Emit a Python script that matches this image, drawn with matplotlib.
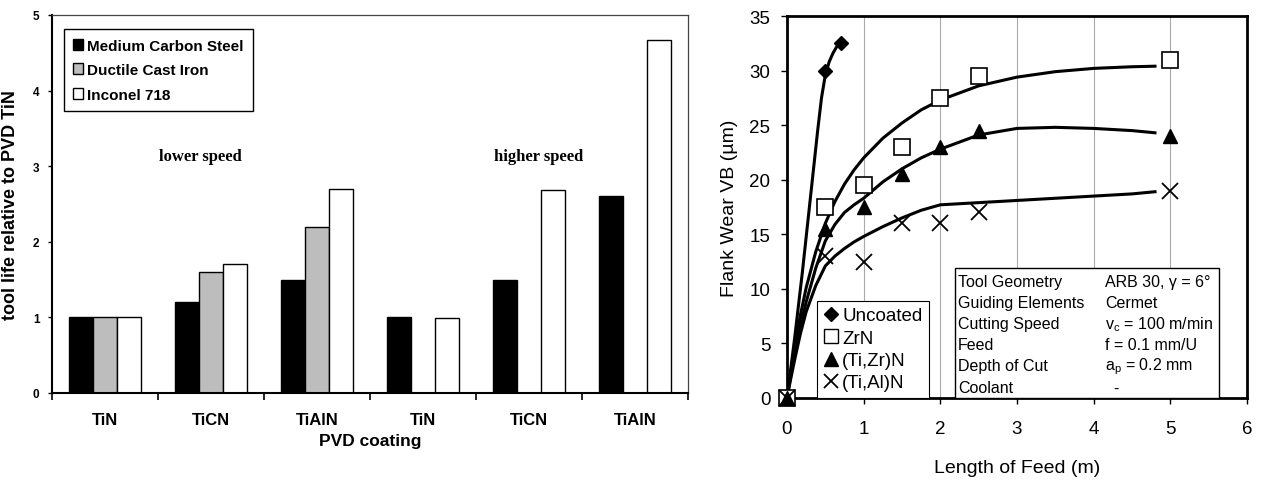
import numpy as np
import matplotlib
matplotlib.use("Agg")
import matplotlib.pyplot as plt
from matplotlib.patches import Patch, Rectangle
from matplotlib.lines import Line2D

plt.rcParams['font.family'] = ['Liberation Sans', 'DejaVu Sans']

# left panel: tool life relative to PVD TiN
coatings = ["TiN", "TiCN", "TiAlN", "TiN", "TiCN", "TiAlN"]
medium_carbon = [1.0, 1.2, 1.5, 1.0, 1.5, 2.6]
ductile_iron = [1.0, 1.6, 2.2, np.nan, np.nan, np.nan]
inconel = [1.0, 1.7, 2.7, 0.99, 2.68, 4.67]
materials = ["Medium Carbon Steel", "Ductile Cast Iron", "Inconel 718"]

# right panel: flank wear vs length of feed
uncoated_x = [0, 0.5, 0.7]
uncoated_y = [0, 30, 32.5]
zrn_x = [0, 0.5, 1, 1.5, 2, 2.5, 5]
zrn_y = [0, 17.5, 19.5, 23, 27.5, 29.5, 31]
tizr_x = [0, 0.5, 1, 1.5, 2, 2.5, 5]
tizr_y = [0, 15.5, 17.5, 20.5, 23, 24.5, 24]
tial_x = [0, 0.5, 1, 1.5, 2, 2.5, 5]
tial_y = [0, 13, 12.5, 16, 16, 17, 19]

# trend curves
uncoated_curve_x = [0, 0.1, 0.2, 0.3, 0.4, 0.45, 0.5, 0.55, 0.6, 0.65, 0.7]
uncoated_curve_y = [0, 5.5, 11.5, 18, 24.5, 27.5, 29.6, 30.8, 31.6, 32.2, 32.6]
curve_x = [0, 0.05, 0.1, 0.175, 0.25, 0.375, 0.5, 0.625, 0.75, 0.875, 1, 1.25, 1.5,
           1.75, 2, 2.5, 3, 3.5, 4, 4.5, 4.8]
zrn_curve_y = [0, 2.4, 4.6, 7.6, 10.1, 13.4, 16, 18, 19.6, 20.9, 22, 23.8, 25.2,
               26.4, 27.3, 28.6, 29.4, 29.9, 30.2, 30.35, 30.4]
tizr_curve_y = [0, 2.1, 4.1, 6.6, 8.8, 11.9, 14.4, 15.9, 17, 17.7, 18.3, 19.8, 21,
                22, 22.8, 24.1, 24.7, 24.8, 24.7, 24.5, 24.3]
tial_curve_y = [0, 1.8, 3.5, 5.9, 7.9, 10.3, 12.1, 13, 13.7, 14.3, 14.8, 15.7, 16.5,
                17.2, 17.7, 17.9, 18.1, 18.3, 18.5, 18.7, 18.9]

conditions = ["Tool Geometry", "Guiding Elements", "Cutting Speed", "Feed",
              "Depth of Cut", "Coolant"]
condition_values = ["ARB 30, \u03b3 = 6\u00b0", "Cermet",
                    r"v$_\mathregular{c}$ = 100 m/min", "f = 0.1 mm/U",
                    r"a$_\mathregular{p}$ = 0.2 mm", "  -"]

fig = plt.figure(figsize=(12.61, 4.81), dpi=100)

# ---------- left bar chart ----------
ax1 = fig.add_axes([52 / 1261, 87 / 481, 636 / 1261, 378 / 481])
x = np.arange(len(coatings))
w = 0.225
ax1.bar(x - w, medium_carbon, w, color="black", edgecolor="black", lw=1)
ax1.bar(x, ductile_iron, w, color="#bdbdbd", edgecolor="black", lw=1)
ax1.bar(x + w, inconel, w, color="white", edgecolor="black", lw=1)

ax1.set_xlim(-0.5, 5.5)
ax1.set_ylim(0, 5)
ax1.set_xticks(x)
ax1.set_xticklabels(coatings, fontsize=12, fontweight="bold")
ax1.set_xticks(np.arange(-0.5, 6, 1), minor=True)
ax1.tick_params(axis="x", which="major", length=0, pad=14)
ax1.tick_params(axis="x", which="minor", length=5, width=1.2, direction="out")
ax1.set_yticks(range(6))
ax1.set_yticklabels([str(i) for i in range(6)], fontsize=8.5, fontweight="bold")
ax1.tick_params(axis="y", length=3, width=1, pad=6)
for s in ["left", "bottom"]:
    ax1.spines[s].set_linewidth(1.5)
for s in ["top", "right"]:
    ax1.spines[s].set_linewidth(0.9)
    ax1.spines[s].set_color("#444444")
ax1.set_xlabel("PVD coating", fontsize=12.5, fontweight="bold", labelpad=4)
ax1.set_ylabel("tool life relative to PVD TiN", fontsize=13, fontweight="bold",
               labelpad=10)

ax1.text(0.9, 3.14, "lower speed", family="Liberation Serif", fontweight="bold",
         fontsize=12, ha="center", va="center")
ax1.text(4.09, 3.14, "higher speed", family="Liberation Serif", fontweight="bold",
         fontsize=12, ha="center", va="center")

handles = [Patch(facecolor="black", edgecolor="black"),
           Patch(facecolor="#bdbdbd", edgecolor="black"),
           Patch(facecolor="white", edgecolor="black")]
leg1 = ax1.legend(handles, materials, loc="upper left", bbox_to_anchor=(0.019, 0.962),
                  borderaxespad=0, fancybox=False, edgecolor="black",
                  prop={"size": 11, "weight": "bold"}, handlelength=0.65,
                  handleheight=0.75, handletextpad=0.25, labelspacing=0.7,
                  borderpad=0.6, framealpha=1)
leg1.get_frame().set_linewidth(1)

# ---------- right line chart ----------
ax2 = fig.add_axes([787 / 1261, 82 / 481, 460 / 1261, 382 / 481])
for gx in range(1, 6):
    ax2.axvline(gx, color="#aaaaaa", lw=0.8, zorder=0)

ax2.plot(uncoated_curve_x, uncoated_curve_y, color="black", lw=2.2)
ax2.plot(curve_x, zrn_curve_y, color="black", lw=2.2)
ax2.plot(curve_x, tizr_curve_y, color="black", lw=2.2)
ax2.plot(curve_x, tial_curve_y, color="black", lw=2.2)

ax2.plot(uncoated_x, uncoated_y, "D", color="black", ms=7, ls="none", zorder=3,
         clip_on=False)
ax2.plot(zrn_x, zrn_y, "s", mfc="white", mec="black", mew=1.2, ms=11, ls="none",
         zorder=3, clip_on=False)
ax2.plot(tizr_x, tizr_y, "^", color="black", ms=10, ls="none", zorder=3, clip_on=False)
ax2.plot(tial_x, tial_y, "x", color="black", mew=1.3, ms=11, ls="none", zorder=3,
         clip_on=False)

ax2.set_xlim(0, 6)
ax2.set_ylim(0, 35)
ax2.set_xticks(range(7))
ax2.set_yticks(range(0, 36, 5))
ax2.tick_params(axis="both", labelsize=13.5, length=4, width=1, direction="out")
ax2.tick_params(axis="x", pad=12)
ax2.tick_params(axis="y", pad=8)
for s in ax2.spines.values():
    s.set_linewidth(2)
ax2.set_xlabel("Length of Feed (m)", fontsize=14, labelpad=16)
ax2.set_ylabel("Flank Wear VB (\u00b5m)", fontsize=14, labelpad=8)

lh = [Line2D([], [], marker="D", color="black", ls="none", ms=7),
      Line2D([], [], marker="s", mfc="white", mec="black", ls="none", ms=10),
      Line2D([], [], marker="^", color="black", ls="none", ms=10),
      Line2D([], [], marker="x", color="black", mew=1.3, ls="none", ms=10)]
leg2 = ax2.legend(lh, ["Uncoated", "ZrN", "(Ti,Zr)N", "(Ti,Al)N"], loc="lower left",
                  bbox_to_anchor=(0.065, 0), borderaxespad=0, fancybox=False,
                  edgecolor="black", fontsize=13.5, handlelength=0.8,
                  handletextpad=0.2, labelspacing=0.28, borderpad=0.35,
                  framealpha=1)
leg2.get_frame().set_linewidth(0.8)

ax2.add_patch(Rectangle((0.365, 0), 0.574, 0.34, transform=ax2.transAxes,
                        facecolor="white", edgecolor="black", lw=1, zorder=4))
for i, (c, v) in enumerate(zip(conditions, condition_values)):
    yy = 0.306 - i * 0.0555
    ax2.text(0.372, yy, c, transform=ax2.transAxes, fontsize=11.5, va="center",
             zorder=5)
    ax2.text(0.691, yy, v, transform=ax2.transAxes, fontsize=11.5, va="center",
             zorder=5)

fig.savefig("out.png", dpi=100)
